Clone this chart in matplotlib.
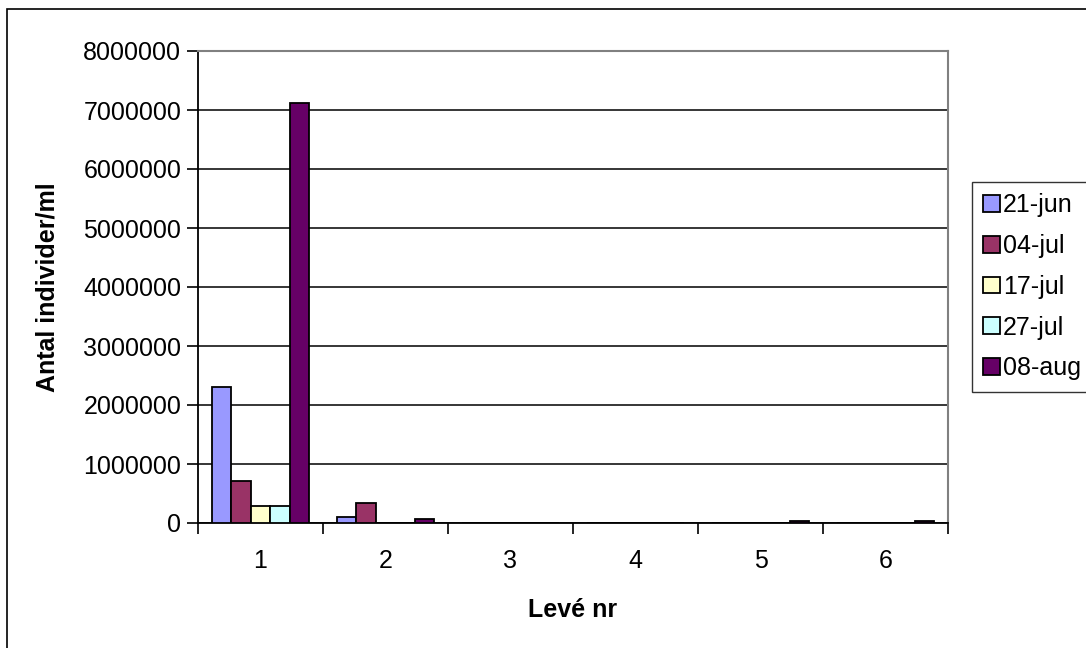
import matplotlib
matplotlib.use("AGG")
import matplotlib.pyplot as plt
from matplotlib.patches import Rectangle
import numpy as np

plt.rcParams['font.family'] = ['Liberation Sans', 'DejaVu Sans']

leve = ['1', '2', '3', '4', '5', '6']
dates = ['21-jun', '04-jul', '17-jul', '27-jul', '08-aug']
colors = ['#9999FF', '#993366', '#FFFFCC', '#CCFFFF', '#660066']

# individuals per ml, one list per sampling date
jun21 = [2300000, 100000, 0, 0, 0, 0]
jul04 = [710000, 340000, 0, 0, 0, 0]
jul17 = [290000, 0, 0, 0, 0, 0]
jul27 = [290000, 0, 0, 0, 0, 0]
aug08 = [7120000, 65000, 0, 0, 40000, 35000]
series = [jun21, jul04, jul17, jul27, aug08]

fig = plt.figure(figsize=(10.86, 6.48), dpi=100)
fig.patches.append(Rectangle((7 / 1086, -0.1), 1.2, 1 - 9 / 648 + 0.1,
                             transform=fig.transFigure, fill=False,
                             edgecolor='black', linewidth=1.2))

ax = fig.add_axes([198 / 1086, 1 - 523 / 648, 750 / 1086, 472 / 648])

x = np.arange(len(leve))
n = len(series)
width = 0.155
for i, (vals, lab, col) in enumerate(zip(series, dates, colors)):
    offs = (i - (n - 1) / 2) * width
    ax.bar(x + offs, vals, width, color=col, edgecolor='black',
           linewidth=1.3, label=lab, zorder=3)

ax.set_xlim(-0.5, len(leve) - 0.5)
ax.set_ylim(0, 8000000)
ax.set_yticks(np.arange(0, 8000001, 1000000))
ax.yaxis.set_major_formatter(matplotlib.ticker.FuncFormatter(lambda v, p: f'{int(v)}'))
ax.grid(axis='y', color='black', linewidth=1.1, zorder=0)

ax.set_xticks(x)
ax.set_xticks(np.arange(-0.5, len(leve), 1.0), minor=True)
ax.set_xticklabels(leve)
ax.tick_params(axis='x', which='major', length=0, pad=19, labelsize=18)
ax.tick_params(axis='x', which='minor', length=8, width=1.2, direction='out')
ax.tick_params(axis='y', length=8, width=1.2, direction='out', labelsize=18, pad=4)

for side in ('top', 'right'):
    ax.spines[side].set_color('#808080')
    ax.spines[side].set_linewidth(1.5)
for side in ('left', 'bottom'):
    ax.spines[side].set_color('black')
    ax.spines[side].set_linewidth(1.3)

ax.set_xlabel('Levé nr', fontsize=18, fontweight='bold', labelpad=18)
ax.set_ylabel('Antal individer/ml', fontsize=18, fontweight='bold', labelpad=17)

leg = ax.legend(loc='upper left', bbox_to_anchor=(972 / 1086, 1 - 182 / 648),
                bbox_transform=fig.transFigure, frameon=True, fancybox=False,
                fontsize=18, handlelength=0.65, handleheight=0.65,
                handletextpad=0.15, labelspacing=0.67, borderpad=0.45,
                borderaxespad=0)
leg.get_frame().set_edgecolor('black')
leg.get_frame().set_linewidth(1.0)

fig.savefig('out.png', dpi=100)
